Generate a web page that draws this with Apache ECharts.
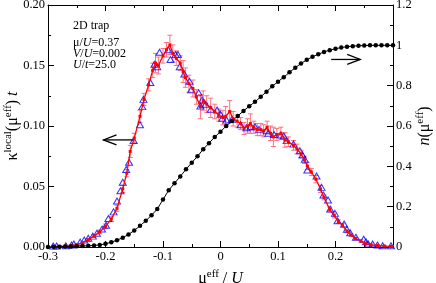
<!DOCTYPE html>
<html><head><meta charset="utf-8">
<script src="https://cdn.jsdelivr.net/npm/echarts@6/dist/echarts.min.js"></script>
<style>html,body{margin:0;padding:0;background:#fff}#c{width:436px;height:283px}</style>
</head><body><div id="c"></div>
<script>
// ---- tick labels ----
const xTickLabels = ['-0.3','-0.2','-0.1','0','0.1','0.2',''];
const leftTickLabels = ['0.00','0.05','0.10','0.15','0.20'];
const rightTickLabels = ['0','0.2','0.4','0.6','0.8','1','1.2'];

// ---- kappa (blue triangles) ----
const blueX = [-0.291,-0.285,-0.269,-0.259,-0.255,-0.244,-0.237,-0.230,-0.222,-0.215,-0.206,-0.199,-0.195,-0.186,-0.180,-0.174,-0.170,-0.164,-0.159,-0.151,-0.140,-0.136,-0.134,-0.122,-0.115,-0.110,-0.106,-0.091,-0.087,-0.078,-0.074,-0.071,-0.063,-0.054,-0.051,-0.038,-0.035,-0.032,-0.026,-0.017,-0.006,0.000,0.003,0.0105,0.020,0.035,0.045,0.052,0.060,0.067,0.080,0.083,0.093,0.105,0.110,0.115,0.127,0.138,0.1425,0.1465,0.151,0.167,0.1756,0.179,0.187,0.1907,0.199,0.2035,0.215,0.2198,0.2255,0.2355,0.249,0.253,0.257,0.2645,0.273,0.282,0.2965];
const blueY = [0.0008,0.0008,0.001,0.0017,0.0025,0.004,0.0058,0.0072,0.009,0.0113,0.0149,0.018,0.0235,0.029,0.038,0.0465,0.0535,0.064,0.070,0.088,0.101,0.116,0.122,0.136,0.151,0.149,0.161,0.163,0.155,0.159,0.159,0.149,0.143,0.137,0.130,0.1275,0.1165,0.1215,0.118,0.1138,0.1132,0.1097,0.1064,0.105,0.1055,0.101,0.0986,0.0994,0.0994,0.0972,0.0961,0.094,0.093,0.0926,0.0917,0.0879,0.085,0.0796,0.076,0.0725,0.0636,0.0587,0.0493,0.043,0.0388,0.0314,0.0278,0.0217,0.019,0.0146,0.0118,0.008,0.0064,0.0044,0.0025,0.0025,0.0017,0.001,0.001];

// ---- kappa (red with error bars) ----
const redX = [-0.29,-0.28,-0.27,-0.26,-0.25,-0.24,-0.23,-0.22,-0.21,-0.20,-0.19,-0.18,-0.17,-0.163,-0.157,-0.15,-0.14,-0.133,-0.125,-0.118,-0.113,-0.108,-0.1,-0.094,-0.088,-0.083,-0.077,-0.07,-0.065,-0.061,-0.055,-0.048,-0.042,-0.035,-0.03,-0.024,-0.017,-0.01,-0.003,0.004,0.009,0.016,0.022,0.029,0.035,0.041,0.047,0.052,0.058,0.064,0.07,0.075,0.081,0.087,0.092,0.098,0.105,0.112,0.118,0.127,0.133,0.14,0.146,0.151,0.158,0.166,0.174,0.18,0.19,0.198,0.205,0.212,0.22,0.227,0.235,0.244,0.252,0.262,0.273,0.285,0.297];
const redY = [0.0004,0.0005,0.0008,0.0012,0.002,0.0035,0.006,0.009,0.0125,0.017,0.023,0.032,0.048,0.061,0.079,0.090,0.108,0.122,0.134,0.146,0.152,0.150,0.158,0.163,0.167,0.160,0.156,0.152,0.145,0.140,0.135,0.131,0.124,0.116,0.121,0.118,0.115,0.112,0.109,0.107,0.108,0.112,0.106,0.104,0.102,0.098,0.100,0.102,0.099,0.097,0.097,0.096,0.099,0.094,0.091,0.093,0.094,0.0885,0.087,0.084,0.081,0.077,0.072,0.067,0.062,0.056,0.048,0.041,0.031,0.026,0.021,0.018,0.013,0.0099,0.007,0.005,0.003,0.0017,0.0012,0.0008,0.0005];
const redErr = [0.0005,0.0005,0.0005,0.0006,0.0007,0.0008,0.001,0.0012,0.0015,0.002,0.002,0.0025,0.003,0.003,0.005,0.004,0.005,0.005,0.005,0.006,0.008,0.007,0.006,0.006,0.008,0.007,0.006,0.006,0.009,0.008,0.007,0.007,0.006,0.01,0.008,0.007,0.008,0.006,0.005,0.006,0.008,0.009,0.006,0.005,0.005,0.005,0.006,0.008,0.005,0.005,0.005,0.005,0.005,0.006,0.008,0.005,0.005,0.006,0.004,0.004,0.004,0.003,0.003,0.003,0.003,0.003,0.003,0.002,0.002,0.002,0.0015,0.0015,0.0012,0.001,0.001,0.001,0.0008,0.0007,0.0006,0.0005,0.0005];

// ---- n(mu_eff) (black) ----
const nX = [-0.30,-0.29,-0.28,-0.27,-0.26,-0.25,-0.24,-0.23,-0.22,-0.21,-0.20,-0.19,-0.18,-0.17,-0.16,-0.15,-0.14,-0.13,-0.12,-0.11,-0.10,-0.09,-0.08,-0.07,-0.06,-0.05,-0.04,-0.03,-0.02,-0.01,0.00,0.01,0.02,0.03,0.04,0.05,0.06,0.07,0.08,0.09,0.10,0.11,0.12,0.13,0.14,0.15,0.16,0.17,0.18,0.19,0.20,0.21,0.22,0.23,0.24,0.25,0.26,0.27,0.28,0.29,0.30];
const nY = [0.000,0.001,0.001,0.002,0.003,0.004,0.005,0.006,0.008,0.010,0.016,0.024,0.034,0.046,0.062,0.082,0.105,0.130,0.157,0.188,0.235,0.282,0.316,0.350,0.385,0.418,0.450,0.485,0.515,0.545,0.572,0.600,0.625,0.650,0.675,0.698,0.720,0.745,0.770,0.797,0.820,0.842,0.866,0.889,0.910,0.928,0.943,0.956,0.967,0.976,0.983,0.989,0.993,0.996,0.998,0.999,1.0,1.0,1.0,1.0,1.0];

// ---- arrows: [xStart, y, xTip] ----
const arrowLeft = [-0.1505, 0.0885, -0.2035];
const arrowRight = [0.1925, 0.93, 0.243];

const FF = 'Liberation Serif, Times New Roman, serif';

function zip2(a, b) { return a.map((v, i) => [v, b[i]]); }

function arrowItem(params, api) {
  const s = api.coord([api.value(0), api.value(1)]);
  const t = api.coord([api.value(2), api.value(1)]);
  const dir = t[0] < s[0] ? 1 : -1;
  return {
    type: 'group',
    children: [
      {type: 'line', shape: {x1: s[0], y1: s[1], x2: t[0], y2: t[1]}, style: {stroke: '#000', lineWidth: 1.3}},
      {type: 'polyline', shape: {points: [[t[0] + dir * 13, t[1] - 5], [t[0], t[1]], [t[0] + dir * 13, t[1] + 5]]}, style: {stroke: '#000', lineWidth: 1.3, fill: null}}
    ]
  };
}

const chart = echarts.init(document.getElementById('c'), null, {renderer: 'canvas'});
const tickStyle = {color: '#000', width: 1};
const nameRich = {
  g: {fontFamily: FF, fontSize: 16, color: '#000'},
  i: {fontFamily: FF, fontSize: 16, fontStyle: 'italic', color: '#000'},
  s: {fontFamily: FF, fontSize: 11, color: '#000', verticalAlign: 'top', padding: [0, 0, 8, 0]}
};
chart.setOption({
  animation: false,
  backgroundColor: '#fff',
  grid: {left: 48, right: 43, top: 5, bottom: 36, containLabel: false, outerBoundsMode: 'none'},
  xAxis: [{
    type: 'value', min: -0.3, max: 0.3, interval: 0.1, position: 'bottom',
    axisLine: {show: true, onZero: false, lineStyle: {color: '#000', width: 1}},
    axisTick: {show: true, inside: true, length: 6, lineStyle: tickStyle},
    minorTick: {show: true, splitNumber: 2, length: 3, lineStyle: tickStyle},
    splitLine: {show: false},
    axisLabel: {margin: 3, color: '#000', fontFamily: FF, fontSize: 12.5,
      formatter: (v) => xTickLabels[Math.round((v + 0.3) * 10)] ?? ''},
    name: '{g|μ}{s|eff}{g| / }{i|U}', nameLocation: 'middle', nameGap: 22, nameMoveOverlap: false,
    nameTextStyle: {rich: nameRich}
  }, {
    type: 'value', min: -0.3, max: 0.3, interval: 0.1, position: 'top',
    axisLine: {show: true, onZero: false, lineStyle: {color: '#000', width: 1}},
    axisTick: {show: true, inside: true, length: 6, lineStyle: tickStyle},
    minorTick: {show: true, splitNumber: 2, length: 3, lineStyle: tickStyle},
    splitLine: {show: false}, axisLabel: {show: false}
  }],
  yAxis: [{
    type: 'value', min: 0, max: 0.2, interval: 0.05, position: 'left',
    axisLine: {show: true, onZero: false, lineStyle: {color: '#000', width: 1}},
    axisTick: {show: true, inside: true, length: 6, lineStyle: tickStyle},
    minorTick: {show: true, splitNumber: 2, length: 3, lineStyle: tickStyle},
    splitLine: {show: false},
    axisLabel: {margin: 3, color: '#000', fontFamily: FF, fontSize: 12.5,
      formatter: (v) => leftTickLabels[Math.round(v / 0.05)] ?? ''},
    name: '{g|κ}{s|local}{g|(μ}{s|eff}{g|) }{i|t}', nameLocation: 'middle', nameGap: 26, nameRotate: 90,
    nameMoveOverlap: false,
    nameTextStyle: {rich: nameRich}
  }, {
    type: 'value', min: 0, max: 1.2, interval: 0.2, position: 'right',
    axisLine: {show: true, onZero: false, lineStyle: {color: '#000', width: 1}},
    axisTick: {show: true, inside: true, length: 6, lineStyle: tickStyle},
    minorTick: {show: true, splitNumber: 2, length: 3, lineStyle: tickStyle},
    splitLine: {show: false},
    axisLabel: {margin: 3, color: '#000', fontFamily: FF, fontSize: 12.5,
      formatter: (v) => rightTickLabels[Math.round(v / 0.2)] ?? ''},
    name: '{i|n}{g|(μ}{s|eff}{g|)}', nameLocation: 'middle', nameGap: 22, nameRotate: 90,
    nameMoveOverlap: false,
    nameTextStyle: {rich: nameRich}
  }],
  graphic: [
    {type: 'text', left: 73, top: 20, style: {text: '2D trap', fontFamily: FF, fontSize: 12, fill: '#000'}},
    {type: 'text', left: 73, top: 37, style: {
      text: 'μ/{i|U}=0.37\n{i|V}/{i|U}=0.002\n{i|U}/{i|t}=25.0',
      fontFamily: FF, fontSize: 12, fill: '#000', lineHeight: 11,
      rich: {i: {fontFamily: FF, fontSize: 12, fontStyle: 'italic', fill: '#000', lineHeight: 11}}
    }}
  ],
  series: [
    {
      name: 'err', type: 'custom', xAxisIndex: 0, yAxisIndex: 0, clip: false,
      encode: {x: 0, y: 1},
      data: redX.map((v, i) => [v, redY[i], redErr[i]]),
      renderItem: function (params, api) {
        const x = api.value(0), y = api.value(1), e = api.value(2);
        const lo = api.coord([x, y - e]), hi = api.coord([x, y + e]);
        const w = 2.5, c = '#ff6f7f';
        return {type: 'group', children: [
          {type: 'line', shape: {x1: lo[0], y1: lo[1], x2: hi[0], y2: hi[1]}, style: {stroke: c, lineWidth: 1}},
          {type: 'line', shape: {x1: lo[0] - w, y1: lo[1], x2: lo[0] + w, y2: lo[1]}, style: {stroke: c, lineWidth: 1}},
          {type: 'line', shape: {x1: hi[0] - w, y1: hi[1], x2: hi[0] + w, y2: hi[1]}, style: {stroke: c, lineWidth: 1}}
        ]};
      }
    },
    {
      name: 'kappa red', type: 'line', xAxisIndex: 0, yAxisIndex: 0,
      data: zip2(redX, redY), symbol: 'rect', symbolSize: 3, showSymbol: true,
      lineStyle: {color: '#ff0000', width: 1.3}, itemStyle: {color: '#ff0000'}
    },
    {
      name: 'kappa blue', type: 'scatter', xAxisIndex: 0, yAxisIndex: 0,
      data: zip2(blueX, blueY), symbol: 'triangle', symbolSize: [7, 6],
      itemStyle: {color: 'rgba(255,255,255,0)', borderColor: '#0000ff', borderWidth: 1}
    },
    {
      name: 'n', type: 'line', xAxisIndex: 0, yAxisIndex: 1,
      data: zip2(nX, nY), symbol: 'circle', symbolSize: 4.5, showSymbol: true,
      lineStyle: {color: '#000', width: 1}, itemStyle: {color: '#000'}
    },
    {
      name: 'arrowL', type: 'custom', xAxisIndex: 0, yAxisIndex: 0, clip: false,
      encode: {x: [0, 2], y: 1}, data: [arrowLeft], renderItem: arrowItem
    },
    {
      name: 'arrowR', type: 'custom', xAxisIndex: 0, yAxisIndex: 1, clip: false,
      encode: {x: [0, 2], y: 1}, data: [arrowRight], renderItem: arrowItem
    }
  ]
});
</script>
</body></html>
